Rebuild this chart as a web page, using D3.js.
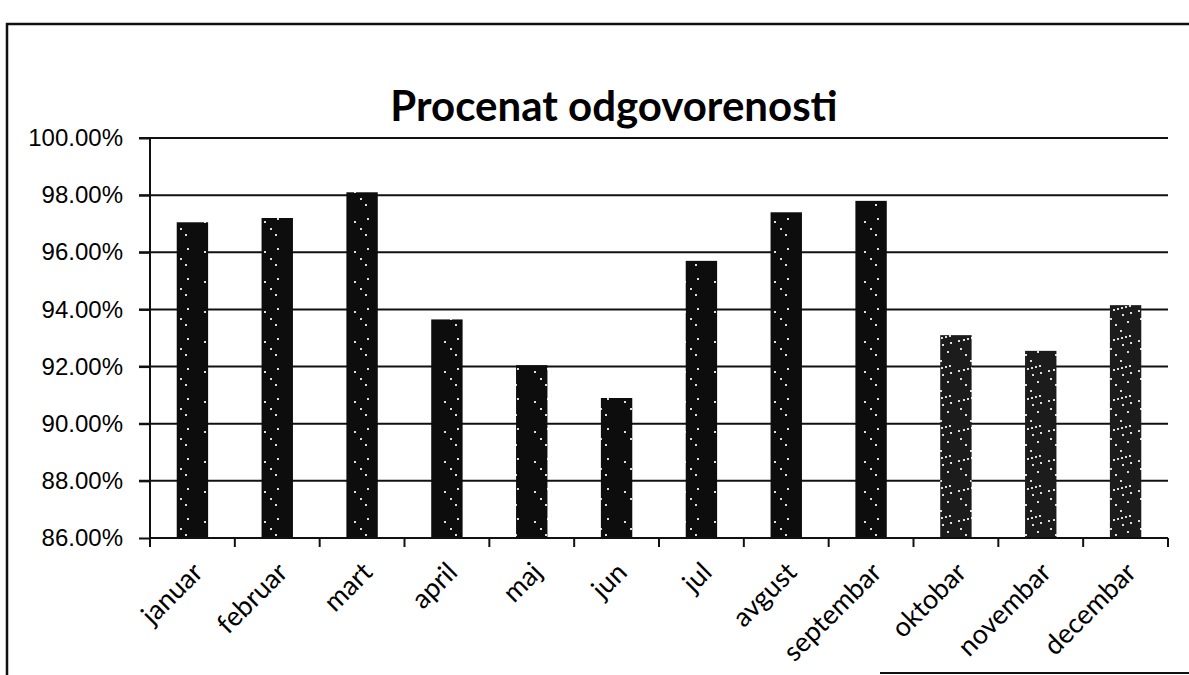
<!DOCTYPE html>
<html>
<head>
<meta charset="utf-8">
<script src="https://cdn.jsdelivr.net/npm/d3@7"></script>
<style>
  body { margin: 0; background: #fff; }
  svg { display: block; font-family: Lato, "Open Sans", sans-serif; }
  .axis path, .axis line { stroke: #111; stroke-width: 2; }
  .axis--y text { fill: #000; font-size: 24px; }
  .axis--x text { fill: #000; font-size: 27px; }
</style>
</head>
<body>
<div id="chart"></div>
<script>
// data
const months = ["januar", "februar", "mart", "april", "maj", "jun", "jul",
  "avgust", "septembar", "oktobar", "novembar", "decembar"];
const odgovoreno = [97.05, 97.2, 98.1, 93.65, 92.05, 90.9, 95.7, 97.4, 97.8, 93.1, 92.55, 94.15];
const yTicks = [86, 88, 90, 92, 94, 96, 98, 100];
const title = "Procenat odgovorenosti";

const W = 1189, H = 675;
const margin = {top: 138, right: 21, bottom: 137, left: 150};
const width = W - margin.left - margin.right;
const height = H - margin.top - margin.bottom;

const svg = d3.select("#chart").append("svg")
  .attr("width", W).attr("height", H);

// speckle patterns (the scan makes the black bars look grainy)
const defs = svg.append("defs");
function speckle(id, bg, n, seedStep) {
  const p = defs.append("pattern").attr("id", id)
    .attr("patternUnits", "userSpaceOnUse").attr("width", 30).attr("height", 30);
  p.append("rect").attr("width", 30).attr("height", 30).attr("fill", bg);
  let s = seedStep;
  for (let i = 0; i < n; i++) {
    s = (s * 73 + 41) % 997;
    p.append("rect").attr("x", s % 29).attr("y", (s * 7) % 29)
      .attr("width", 2).attr("height", 2).attr("fill", "#ddd");
  }
}
speckle("speckDark", "#0d0d0d", 4, 17);
speckle("speckGrey", "#1c1c1c", 12, 5);

// outer frame of the chart area (only left + top visible in the scan)
svg.append("path")
  .attr("d", "M7,675 L7,24 L1189,24")
  .attr("fill", "none").attr("stroke", "#111").attr("stroke-width", 2.5);
svg.append("line")
  .attr("x1", 880).attr("x2", 1189).attr("y1", 673).attr("y2", 673)
  .attr("stroke", "#111").attr("stroke-width", 2);

svg.append("text")
  .attr("x", 614).attr("y", 121)
  .attr("text-anchor", "middle")
  .attr("font-weight", "bold")
  .attr("font-size", 42)
  .attr("fill", "#000")
  .text(title);

const g = svg.append("g")
  .attr("transform", "translate(" + margin.left + "," + margin.top + ")");

const x = d3.scaleBand().domain(months).range([0, width]).padding(0);
const y = d3.scaleLinear().domain([86, 100]).range([height, 0]);

// gridlines
g.append("g").selectAll("line")
  .data(yTicks.slice(1))
  .enter().append("line")
  .attr("x1", -11).attr("x2", width)
  .attr("y1", d => y(d)).attr("y2", d => y(d))
  .attr("stroke", "#111").attr("stroke-width", 2);

// y axis
g.append("g")
  .attr("class", "axis axis--y")
  .call(d3.axisLeft(y).tickValues(yTicks).tickSize(11).tickPadding(16)
    .tickFormat(d => d.toFixed(2) + "%"))
  .call(a => a.select(".domain").attr("d", "M0," + height + "V0"));

// bars
const barW = x.bandwidth() * 0.37;
g.selectAll(".bar")
  .data(months)
  .enter().append("rect")
  .attr("class", "bar")
  .attr("x", d => x(d) + (x.bandwidth() - barW) / 2)
  .attr("y", (d, i) => y(odgovoreno[i]))
  .attr("width", barW)
  .attr("height", (d, i) => height - y(odgovoreno[i]))
  .attr("fill", (d, i) => i > 8 ? "url(#speckGrey)" : "url(#speckDark)");

// x axis: ticks sit between categories
const xa = g.append("g").attr("class", "axis axis--x")
  .attr("transform", "translate(0," + height + ")");
xa.append("line").attr("x1", 0).attr("x2", width)
  .attr("stroke", "#111").attr("stroke-width", 2);
xa.selectAll(".tick")
  .data(months.map(m => x(m)).concat([width]))
  .enter().append("line")
  .attr("x1", d => d).attr("x2", d => d)
  .attr("y1", 0).attr("y2", 9)
  .attr("stroke", "#111").attr("stroke-width", 2);
xa.selectAll(".lbl")
  .data(months)
  .enter().append("text")
  .attr("class", "lbl")
  .attr("transform", d => "translate(" + (x(d) + x.bandwidth() / 2 + 12) + ",36) rotate(-45)")
  .attr("text-anchor", "end")
  .text(d => d);
</script>
</body>
</html>
